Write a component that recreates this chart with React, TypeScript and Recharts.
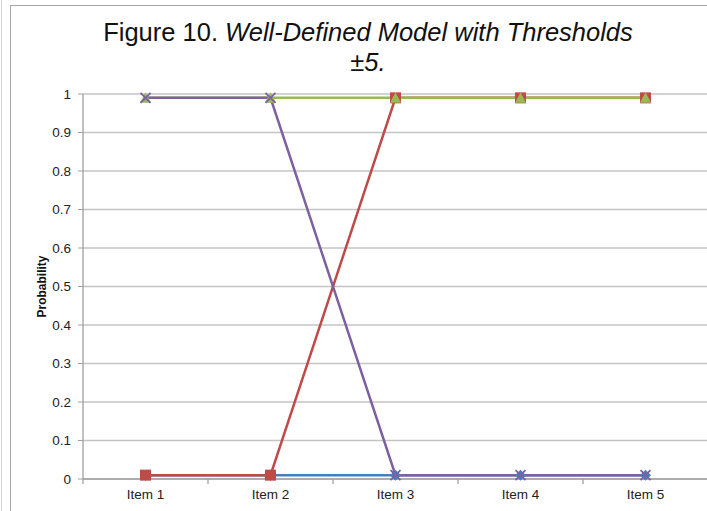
import React from 'react';
import { LineChart, Line, XAxis, YAxis, CartesianGrid, Label } from 'recharts';

const ITEMS = ['Item 1', 'Item 2', 'Item 3', 'Item 4', 'Item 5'];
const SERIES_A = [0.01, 0.01, 0.01, 0.01, 0.01];
const SERIES_B = [0.01, 0.01, 0.99, 0.99, 0.99];
const SERIES_C = [0.99, 0.99, 0.99, 0.99, 0.99];
const SERIES_D = [0.99, 0.99, 0.01, 0.01, 0.01];
const Y_TICKS = [0, 0.1, 0.2, 0.3, 0.4, 0.5, 0.6, 0.7, 0.8, 0.9, 1];
// category slots: labels at the middle of each slot, tick marks at the edges
const X_TICKS = [0, 0.5, 1, 1.5, 2, 2.5, 3, 3.5, 4, 4.5, 5];

const BLUE = '#4A7EBB';
const RED = '#BE4B48';
const GREEN = '#98B954';
const PURPLE = '#7D60A0';
const AXIS = '#a0a0a0';
const FONT = '"Liberation Sans", Arial, sans-serif';

const data = ITEMS.map((name, i) => ({
  x: i + 0.5,
  name,
  a: SERIES_A[i],
  b: SERIES_B[i],
  c: SERIES_C[i],
  d: SERIES_D[i],
}));

const XTick = (props: any) => {
  const { x, y, payload } = props;
  const v = payload.value;
  if (Number.isInteger(v)) {
    return <line x1={x} x2={x} y1={y} y2={y + 5} stroke={AXIS} strokeWidth={1.3} />;
  }
  const label = ITEMS[Math.floor(v)];
  return (
    <text x={x} y={y + 20} textAnchor="middle" fontSize={13.5} fill="#222" fontFamily={FONT}>
      {label}
    </text>
  );
};

const Diamond = (props: any) => {
  const { cx, cy, key } = props;
  if (cx == null || cy == null) return null;
  return <path key={key} d={`M${cx},${cy - 5.5}L${cx + 5.5},${cy}L${cx},${cy + 5.5}L${cx - 5.5},${cy}Z`} fill={BLUE} />;
};

const Square = (props: any) => {
  const { cx, cy, key } = props;
  if (cx == null || cy == null) return null;
  return <rect key={key} x={cx - 5.5} y={cy - 5.5} width={11} height={11} fill={RED} />;
};

const Triangle = (props: any) => {
  const { cx, cy, key } = props;
  if (cx == null || cy == null) return null;
  return <path key={key} d={`M${cx},${cy - 5.5}L${cx + 5.5},${cy + 5}L${cx - 5.5},${cy + 5}Z`} fill={GREEN} />;
};

const Cross = (props: any) => {
  const { cx, cy, key } = props;
  if (cx == null || cy == null) return null;
  return (
    <path
      key={key}
      d={`M${cx - 5},${cy - 5}L${cx + 5},${cy + 5}M${cx + 5},${cy - 5}L${cx - 5},${cy + 5}`}
      stroke={PURPLE}
      strokeWidth={1.8}
      fill="none"
    />
  );
};

export default function App() {
  return (
    <div style={{ position: 'absolute', left: 0, top: 0, width: 707, height: 511, overflow: 'hidden', background: '#fff', fontFamily: FONT }}>
      <div style={{ position: 'absolute', left: 1, top: 0, width: 1, height: 511, background: '#d4d4d4' }} />
      <div style={{ position: 'absolute', left: 10, top: 5, width: 720, height: 520, border: '1px solid #a6a6a6', boxSizing: 'border-box' }} />
      <div style={{ position: 'absolute', left: 10, width: 716, top: 17, textAlign: 'center', fontSize: 25.5, lineHeight: '30px', color: '#111' }}>
        Figure 10. <i>Well-Defined Model with Thresholds</i>
        <br />
        <i>±5.</i>
      </div>
      <div style={{ position: 'absolute', left: 0, top: 0 }}>
        <LineChart width={720} height={511} data={data} margin={{ top: 94, right: 12, bottom: 0, left: 0 }}>
          <CartesianGrid vertical={false} stroke="#c4c4c4" strokeWidth={1.3} />
          <XAxis
            dataKey="x"
            type="number"
            domain={[0, 5]}
            ticks={X_TICKS}
            interval={0}
            axisLine={{ stroke: AXIS, strokeWidth: 1.3 }}
            tickLine={false}
            tickSize={0}
            tickMargin={0}
            tick={XTick}
            height={32}
          />
          <YAxis
            domain={[0, 1]}
            ticks={Y_TICKS}
            interval={0}
            width={83}
            axisLine={{ stroke: AXIS, strokeWidth: 1.3 }}
            tickLine={{ stroke: AXIS }}
            tickSize={5}
            tickMargin={7}
            tick={{ fill: '#222', fontSize: 13.5, fontFamily: FONT }}
          >
            <Label
              value="Probability"
              angle={-90}
              position="insideLeft"
              offset={42}
              style={{ fontSize: 12, fontWeight: 'bold', fill: '#111', fontFamily: FONT, textAnchor: 'middle' }}
            />
          </YAxis>
          <Line dataKey="a" stroke={BLUE} strokeWidth={2.5} dot={Diamond} activeDot={false} isAnimationActive={false} />
          <Line dataKey="b" stroke={RED} strokeWidth={2.5} dot={Square} activeDot={false} isAnimationActive={false} />
          <Line dataKey="c" stroke={GREEN} strokeWidth={2.5} dot={Triangle} activeDot={false} isAnimationActive={false} />
          <Line dataKey="d" stroke={PURPLE} strokeWidth={2.5} dot={Cross} activeDot={false} isAnimationActive={false} />
        </LineChart>
      </div>
    </div>
  );
}
